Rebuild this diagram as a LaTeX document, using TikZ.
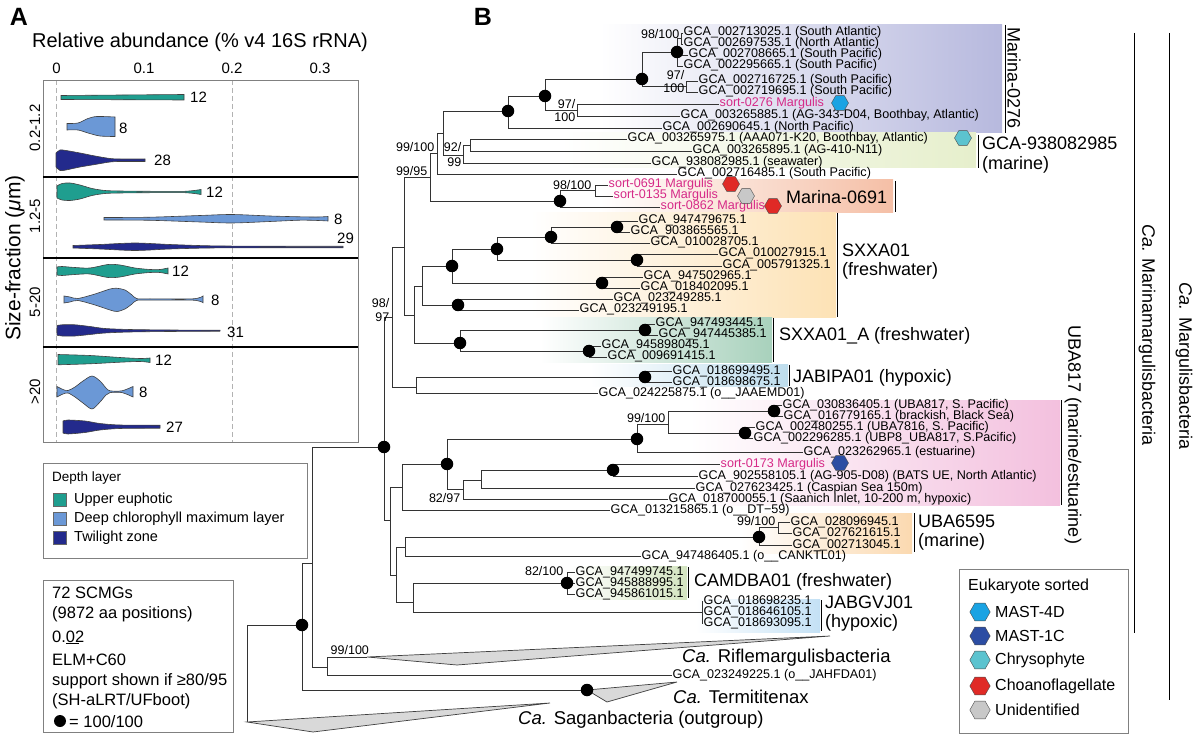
\documentclass[tikz,border=0pt]{standalone}
\usepackage{fontspec}
\setmainfont{Liberation Sans}
\definecolor{eup}{HTML}{1F9E8F}
\definecolor{dcm}{HTML}{6B98D6}
\definecolor{twi}{HTML}{232A8C}
\definecolor{sortpink}{HTML}{D62A88}
\definecolor{mastfour}{HTML}{1AA3E3}
\definecolor{mastone}{HTML}{2C4DA3}
\definecolor{chryso}{HTML}{5CC3CF}
\definecolor{choano}{HTML}{E02A26}
\definecolor{unid}{HTML}{C8C8C8}
\definecolor{cMa}{HTML}{B7B9DE}
\definecolor{cGc}{HTML}{E6EFCC}
\definecolor{cMb}{HTML}{F5BFA6}
\definecolor{cSx}{HTML}{FDE2B5}
\definecolor{cSa}{HTML}{A8D1BC}
\definecolor{cJa}{HTML}{BEDDED}
\definecolor{cUa}{HTML}{F3C0DE}
\definecolor{cUb}{HTML}{FBD9B0}
\definecolor{cCa}{HTML}{D3E4C0}
\definecolor{cJg}{HTML}{C4E1F5}
\begin{document}
\begin{tikzpicture}[x=1pt, y=-1pt,
  br/.style={draw=black!80, line width=0.8pt},
  dot/.style={circle, fill=black, inner sep=0pt, minimum size=12.5pt},
  tip/.style={anchor=west, inner sep=0.5pt, text height=8pt, text depth=2pt, font=\fontsize{12.6}{12.6}\selectfont},
  stip/.style={tip, text=sortpink},
  bs/.style={inner sep=0.5pt, align=right, font=\fontsize{12.5}{13}\selectfont},
  clade/.style={anchor=west, align=left, inner sep=0pt, font=\fontsize{18}{19}\selectfont},
  vclade/.style={rotate=-90, inner sep=0pt, font=\fontsize{18}{18}\selectfont},
  bar/.style={line width=1pt},
  vio/.style={draw=black!75, line width=0.6pt},
  num/.style={anchor=west, inner sep=0pt, font=\fontsize{15}{15}\selectfont},
  leg/.style={anchor=west, inner sep=0pt, font=\fontsize{16.5}{16.5}\selectfont},
  tri/.style={draw=black!75, fill=black!15, line width=0.7pt},
  hex/.pic={\path[pic actions] (-8.5,0) -- (-4.25,-7.4) -- (4.25,-7.4) -- (8.5,0) -- (4.25,7.4) -- (-4.25,7.4) -- cycle;}
]
\useasboundingbox (0,0) rectangle (1200,735);

% panel A
\node[font=\bfseries\fontsize{25}{25}\selectfont] (labA) at (19,17) {A};
\node[font=\fontsize{20}{20}\selectfont] (title) at (200,42) {Relative abundance (\% v4 16S rRNA)};
\foreach \v/\x [count=\i] in {0/56.5, 0.1/144, 0.2/232, 0.3/320}
  \node[font=\fontsize{15}{15}\selectfont] (tk\i) at (\x,68) {\v};
\draw[gray!60, dash pattern=on 5pt off 3pt] (56.5,80) -- (56.5,442) (232,80) -- (232,442);
\draw[gray, line width=0.8pt] (43,80) rectangle (358,442);
\foreach \y in {177,258,347} \draw[line width=1.3pt] (43,\y) -- (358,\y);

\draw[vio, fill=eup] (61,95.5) -- (184,94.5) -- (184,100) -- (61,99.5) -- cycle;
\draw[vio, fill=dcm] plot[smooth] coordinates {(67,123.5) (78,123) (88,118.5) (97,116.5) (115,117)} -- plot[smooth] coordinates {(115,136.5) (100,136) (88,133) (78,130) (67,130)} -- cycle;
\draw[vio, fill=twi] plot[smooth] coordinates {(56,153) (60,150) (66,150.5) (80,153) (95,156) (110,158.5) (120,159) (145,159)} -- plot[smooth] coordinates {(145,161.5) (120,161.5) (110,162) (95,164.5) (80,167) (66,170) (60,170.5) (56,167)} -- cycle;

\draw[vio, fill=eup] plot[smooth] coordinates {(57,186) (62,183.5) (70,183) (80,185) (92,188.5) (105,190.5) (120,191) (150,191.3) (185,191.3) (201,189.5)} -- plot[smooth] coordinates {(201,194.5) (185,192.7) (150,192.7) (120,193) (105,193.5) (92,195.5) (80,199) (70,200.5) (62,200) (57,198)} -- cycle;
\draw[vio, fill=dcm] plot[smooth] coordinates {(104,217.5) (150,217.2) (200,215.5) (232,214.5) (270,216) (300,216.8) (318,217) (328,216.5)} -- plot[smooth] coordinates {(328,221) (318,220.5) (300,220.2) (270,221.5) (232,223) (200,222) (150,220.3) (104,220)} -- cycle;
\draw[vio, fill=twi] plot[smooth] coordinates {(73,245.5) (100,244.5) (135,243) (170,244.5) (210,245.8) (260,246.2) (343,246.3)} -- plot[smooth] coordinates {(343,247.8) (260,247.8) (210,248) (170,249) (135,250.5) (100,249) (73,248)} -- cycle;

\draw[vio, fill=eup] plot[smooth] coordinates {(57,267) (62,266.5) (75,267.5) (90,268) (108,264.5) (120,265) (135,268) (150,269.5) (160,269.5) (168,268)} -- plot[smooth] coordinates {(168,274) (160,272.5) (150,272.5) (135,274) (120,277) (108,277.5) (90,274) (75,274.5) (62,275.5) (57,275)} -- cycle;
\draw[vio, fill=dcm] plot[smooth] coordinates {(64,296) (70,297) (78,298.5) (95,294) (110,289) (117,288.3) (125,290) (132,295) (137,298.7) (150,298.8) (193,298.8) (203,296)} -- plot[smooth] coordinates {(203,302.7) (193,300.2) (150,300.2) (137,300.3) (132,304) (125,309) (117,311.5) (110,310) (95,305) (78,300.5) (70,302) (64,303)} -- cycle;
\draw[vio, fill=twi] plot[smooth] coordinates {(57,325.5) (62,324.8) (75,324.8) (90,326.5) (105,328.5) (130,329.5) (170,330) (220,330.2)} -- plot[smooth] coordinates {(220,331.2) (170,331.5) (130,332) (105,333) (90,334.5) (75,336) (62,336) (57,335.2)} -- cycle;

\draw[vio, fill=eup] plot[smooth] coordinates {(58,354.5) (90,355.5) (120,357.5) (140,358.5) (150,358)} -- plot[smooth] coordinates {(150,362.5) (140,361.5) (120,362.2) (90,363.8) (58,364.8)} -- cycle;
\draw[vio, fill=dcm] plot[smooth] coordinates {(57,386.5) (63,389.5) (68,390.5) (75,387) (83,381) (92,376) (100,381) (106,388) (110,390.8) (122,390.8) (133,386.5)} -- plot[smooth] coordinates {(133,397) (122,392.6) (110,392.6) (106,395) (100,402) (92,409) (83,403) (75,397) (68,393) (63,394) (57,397)} -- cycle;
\draw[vio, fill=twi] plot[smooth] coordinates {(63,421) (68,420) (85,421) (100,423.5) (120,425) (160,425.2)} -- plot[smooth] coordinates {(160,428.2) (120,428.5) (100,430) (85,432.5) (68,434) (63,433)} -- cycle;

\node[num] (n1) at (190,97) {12};
\node[num] (n2) at (119,128) {8};
\node[num] (n3) at (154,160) {28};
\node[num] (n4) at (206,192) {12};
\node[num] (n5) at (334,219) {8};
\node[num] (n6) at (337,238) {29};
\node[num] (n7) at (172,271) {12};
\node[num] (n8) at (211,300) {8};
\node[num] (n9) at (227,332) {31};
\node[num] (n10) at (155,360) {12};
\node[num] (n11) at (139,392) {8};
\node[num] (n12) at (166,427) {27};

\node[rotate=90, font=\fontsize{15}{15}\selectfont] (sf1) at (35,128) {0.2-1.2};
\node[rotate=90, font=\fontsize{15}{15}\selectfont] (sf2) at (35,216) {1.2-5};
\node[rotate=90, font=\fontsize{15}{15}\selectfont] (sf3) at (35,302) {5-20};
\node[rotate=90, font=\fontsize{15}{15}\selectfont] (sf4) at (35,392) {>20};
\node[rotate=90, font=\fontsize{21}{21}\selectfont] (sfl) at (15,258) {Size-fraction (\textit{μ}m)};

\draw[gray, line width=0.8pt] (43,463) rectangle (307,558);
\node[anchor=west, inner sep=0pt, font=\fontsize{13.5}{13.5}\selectfont] (dlh) at (52,478) {Depth layer};
\foreach \c/\y/\t [count=\i] in {eup/500/Upper euphotic, dcm/519/Deep chlorophyll maximum layer, twi/538/Twilight zone} {
  \node[draw=black!60, fill=\c, minimum size=13pt, inner sep=0pt] (sq\i) at (60,\y) {};
  \node[anchor=west, inner sep=0pt, font=\fontsize{14.5}{14.5}\selectfont] (dl\i) at (74,\y) {\t};
}

\draw[gray, line width=0.8pt] (43,580) rectangle (233,732);
\node[leg] (g1) at (52,593) {72 SCMGs};
\node[leg] (g2) at (52,614) {(9872 aa positions)};
\node[leg] (g3) at (52,637) {0.02};
\draw[line width=0.8pt] (66,643) -- (79,643);
\node[leg] (g4) at (52,660) {ELM+C60};
\node[leg] (g5) at (52,681) {support shown if ≥80/95};
\node[leg] (g6) at (52,701) {(SH-aLRT/UFboot)};
\node[dot, minimum size=12pt] (g7) at (60,721) {};
\node[leg] (g8) at (69,722) {= 100/100};

% panel B
\node[font=\bfseries\fontsize{25}{25}\selectfont] (labB) at (483,17) {B};

\shade[left color=white, middle color=cMa!60, right color=cMa] (600,25) rectangle (1002,133);
\shade[left color=white, middle color=cGc!60, right color=cGc] (560,133) rectangle (976,168);
\shade[left color=white, middle color=cMb!60, right color=cMb] (600,180) rectangle (893,213);
\shade[left color=white, middle color=cSx!60, right color=cSx] (530,213) rectangle (836,318);
\shade[left color=white, middle color=cSa!60, right color=cSa] (540,318) rectangle (772,363);
\shade[left color=white, middle color=cJa!60, right color=cJa] (590,365) rectangle (788,387);
\shade[left color=white, middle color=cUa!60, right color=cUa] (690,400) rectangle (1060,505);
\shade[left color=white, middle color=cUb!60, right color=cUb] (740,513) rectangle (912,553);
\shade[left color=white, middle color=cCa!60, right color=cCa] (570,566) rectangle (687,599);
\shade[left color=white, middle color=cJg!60, right color=cJg] (695,599) rectangle (820,632);

\draw[bar] (1005,25) -- (1005,133);
\draw[bar] (978,135) -- (978,168);
\draw[bar] (895,181) -- (895,212);
\draw[bar] (837,213) -- (837,317);
\draw[bar] (773,318) -- (773,362);
\draw[bar] (789,365) -- (789,386);
\draw[bar] (1061,400) -- (1061,505);
\draw[bar] (914,513) -- (914,552);
\draw[bar] (688,567) -- (688,598);
\draw[bar] (821,600) -- (821,631);
\draw[bar] (1134,33) -- (1134,633);
\draw[bar] (1169,33) -- (1169,700);

\node[vclade] (c276) at (1014,78) {Marina-0276};
\node[clade] (c938) at (982,155) {GCA-938082985\\[1pt](marine)};
\node[clade] (c691) at (786,197) {Marina-0691};
\node[clade] (csx) at (842,262) {SXXA01\\(freshwater)};
\node[clade] (csa) at (779,336) {SXXA01\_A (freshwater)};
\node[clade] (cja) at (793,378) {JABIPA01 (hypoxic)};
\node[vclade] (cua) at (1073,435) {UBA817 (marine/estuarine)};
\node[clade] (cub) at (918,533) {UBA6595\\(marine)};
\node[clade] (cca) at (694,582) {CAMDBA01 (freshwater)};
\node[clade] (cjg) at (825,614) {JABGVJ01\\(hypoxic)};
\node[vclade] (cmm) at (1147,335) {\textit{Ca.} Marinamargulisbacteria};
\node[vclade] (cmg) at (1184,366) {\textit{Ca.} Margulisbacteria};

% internal nodes
\coordinate (R) at (247,673);
\coordinate (P1) at (302,625);
\coordinate (P2) at (312,563);
\coordinate (RF) at (327,667);
\coordinate (A0) at (384,447);
\coordinate (W) at (392,317);
\coordinate (V) at (404,247);
\coordinate (Q) at (430,177);
\coordinate (N99) at (437,153);
\coordinate (K) at (443,133);
\coordinate (G) at (463,155);
\coordinate (H) at (470,145);
\coordinate (D1) at (508,111);
\coordinate (D2) at (545,96);
\coordinate (X1) at (577,110);
\coordinate (D3) at (642,79);
\coordinate (X2) at (686,86);
\coordinate (D4) at (677,52);
\coordinate (Y) at (681,38);
\coordinate (M0) at (560,201);
\coordinate (M1) at (595,190);
\coordinate (S2) at (414,315);
\coordinate (S1) at (422,286);
\coordinate (SX) at (452,266);
\coordinate (SX1) at (497,249);
\coordinate (SX2) at (551,237);
\coordinate (SX3) at (617,227);
\coordinate (SX4) at (637,260);
\coordinate (SX5) at (602,283);
\coordinate (PR) at (458,305);
\coordinate (SA) at (460,343);
\coordinate (SA1) at (645,330);
\coordinate (SA2) at (589,351);
\coordinate (J) at (416,387);
\coordinate (JB) at (645,377);
\coordinate (L1) at (390,520);
\coordinate (L2) at (402,487);
\coordinate (L6) at (396,575);
\coordinate (L3) at (405,547);
\coordinate (U0) at (447,464);
\coordinate (U1) at (637,439);
\coordinate (U5) at (668,424);
\coordinate (U6) at (774,411);
\coordinate (U7) at (745,433);
\coordinate (U2) at (463,489);
\coordinate (U3) at (481,480);
\coordinate (U4) at (613,470);
\coordinate (UB) at (759,537);
\coordinate (UB1) at (778,527);
\coordinate (CJ) at (413,602);
\coordinate (CA) at (567,583);
\coordinate (JG) at (702,612);
\coordinate (TE) at (587,690);
\coordinate (RA) at (367,657);
\coordinate (SG) at (247,722);

% tips
\node[tip] (t1) at (683,33) {GCA\_002713025.1 (South Atlantic)};
\node[tip] (t2) at (683,44) {GCA\_002697535.1 (North Atlantic)};
\node[tip] (t3) at (688,55) {GCA\_002708665.1 (South Pacific)};
\node[tip] (t4) at (683,66) {GCA\_002295665.1 (South Pacific)};
\node[tip] (t5) at (698,81) {GCA\_002716725.1 (South Pacific)};
\node[tip] (t6) at (698,92) {GCA\_002719695.1 (South Pacific)};
\node[stip] (t7) at (719,104) {sort-0276 Margulis};
\node[tip] (t8) at (680,116) {GCA\_003265885.1 (AG-343-D04, Boothbay, Atlantic)};
\node[tip] (t9) at (662,128) {GCA\_002690645.1 (North Pacific)};
\node[tip] (t10) at (627,139) {GCA\_003265975.1 (AAA071-K20, Boothbay, Atlantic)};
\node[tip] (t11) at (692,151) {GCA\_003265895.1 (AG-410-N11)};
\node[tip] (t12) at (651,163) {GCA\_938082985.1 (seawater)};
\node[tip] (t13) at (677,174) {GCA\_002716485.1 (South Pacific)};
\node[stip] (t14) at (608,185) {sort-0691 Margulis};
\node[stip] (t15) at (613,196) {sort-0135 Margulis};
\node[stip] (t16) at (660,207) {sort-0862 Margulis};
\node[tip] (t17) at (638,221) {GCA\_947479675.1};
\node[tip] (t18) at (630,232) {GCA\_903865565.1};
\node[tip] (t19) at (650,243) {GCA\_010028705.1};
\node[tip] (t20) at (718,254) {GCA\_010027915.1};
\node[tip] (t21) at (722,266) {GCA\_005791325.1};
\node[tip] (t22) at (643,277) {GCA\_947502965.1};
\node[tip] (t23) at (640,288) {GCA\_018402095.1};
\node[tip] (t24) at (613,299) {GCA\_023249285.1};
\node[tip] (t25) at (579,310) {GCA\_023249195.1};
\node[tip] (t26) at (655,324) {GCA\_947493445.1};
\node[tip] (t27) at (658,335) {GCA\_947445385.1};
\node[tip] (t28) at (601,346) {GCA\_945898045.1};
\node[tip] (t29) at (607,357) {GCA\_009691415.1};
\node[tip] (t30) at (672,371) {GCA\_018699495.1};
\node[tip] (t31) at (672,382) {GCA\_018698675.1};
\node[tip] (t32) at (598,393) {GCA\_024225875.1 (o\_\_JAAEMD01)};
\node[tip] (t33) at (782,405) {GCA\_030836405.1 (UBA817, S. Pacific)};
\node[tip] (t34) at (783,416) {GCA\_016779165.1 (brackish, Black Sea)};
\node[tip] (t35) at (755,427) {GCA\_002480255.1 (UBA7816, S. Pacific)};
\node[tip] (t36) at (753,438) {GCA\_002296285.1 (UBP8\_UBA817, S.Pacific)};
\node[tip] (t37) at (803,452) {GCA\_023262965.1 (estuarine)};
\node[stip] (t38) at (720,464) {sort-0173 Margulis};
\node[tip] (t39) at (698,476) {GCA\_902558105.1 (AG-905-D08) (BATS UE, North Atlantic)};
\node[tip] (t40) at (695,488) {GCA\_027623425.1 (Caspian Sea 150m)};
\node[tip] (t41) at (668,499) {GCA\_018700055.1 (Saanich Inlet, 10-200 m, hypoxic)};
\node[tip] (t42) at (610,510) {GCA\_013215865.1 (o\_\_DT−59)};
\node[tip] (t43) at (790,522) {GCA\_028096945.1};
\node[tip] (t44) at (792,533) {GCA\_027621615.1};
\node[tip] (t45) at (792,545) {GCA\_002713045.1};
\node[tip] (t46) at (641,556) {GCA\_947486405.1 (o\_\_CANKTL01)};
\node[tip] (t47) at (575,572) {GCA\_947499745.1};
\node[tip] (t48) at (575,583) {GCA\_945888995.1};
\node[tip] (t49) at (575,594) {GCA\_945861015.1};
\node[tip] (t50) at (703,601) {GCA\_018698235.1};
\node[tip] (t51) at (703,612) {GCA\_018646105.1};
\node[tip] (t52) at (703,623) {GCA\_018693095.1};
\node[tip] (t53) at (672,675) {GCA\_023249225.1 (o\_\_JAHFDA01)};

% branches
\foreach \a/\b in {R/P1, R/SG, P1/P2, P1/TE, P2/A0, P2/RF, RF/RA, A0/W, A0/L1, W/V, W/J,
  V/Q, V/S2, Q/N99, Q/M0, N99/K, K/D1, K/G, G/H, D1/D2, D2/D3, D2/X1, D3/D4, D3/X2, D4/Y,
  M0/M1, S2/S1, S2/SA, S1/SX, S1/PR, SX/SX1, SX/SX5, SX1/SX2, SX1/SX4, SX2/SX3, SA/SA1, SA/SA2,
  J/JB, L1/L2, L1/L6, L2/U0, L6/L3, L6/CJ, L3/UB, U0/U1, U0/U2, U1/U5, U5/U6, U5/U7, U2/U3,
  U3/U4, UB/UB1, CJ/CA, CJ/JG}
  \draw[br] (\a) |- (\b);
\foreach \a/\b in {Y/t1, Y/t2, D4/t3, D4/t4, X2/t5, X2/t6, X1/t7, X1/t8, D1/t9, H/t10, H/t11,
  G/t12, N99/t13, M1/t14, M1/t15, M0/t16, SX3/t17, SX3/t18, SX2/t19, SX4/t20, SX4/t21,
  SX5/t22, SX5/t23, PR/t24, PR/t25, SA1/t26, SA1/t27, SA2/t28, SA2/t29, JB/t30, JB/t31, J/t32,
  U6/t33, U6/t34, U7/t35, U7/t36, U1/t37, U4/t38, U4/t39, U3/t40, U2/t41, L2/t42, UB1/t43,
  UB1/t44, UB/t45, L3/t46, CA/t47, CA/t48, CA/t49, JG/t50, JG/t51, JG/t52, RF/t53}
  \draw[br] (\a) |- (\b.west);

\draw[tri] (RA) -- (830,636) -- (457,665) -- cycle;
\draw[tri] (TE) -- (677,682) -- (607,702) -- cycle;
\draw[tri] (SG) -- (550,703) -- (313,732) -- cycle;

\foreach \n in {P1,A0,D1,D2,D3,D4,M0,SX,SX1,SX2,SX3,SX4,SX5,PR,SA,SA1,SA2,JB,U0,U1,U6,U7,U4,UB,CA,TE}
  \node[dot] (dot\n) at (\n) {};

\node[bs, anchor=east] (s1) at (680,34) {98/100};
\node[bs, anchor=east] (s2) at (685,82) {97/\\100};
\node[bs, anchor=east] (s3) at (576,111) {97/\\100};
\node[bs, anchor=east] (s4) at (462,155) {92/\\[2pt]99};
\node[bs, anchor=south east] (s5) at (435,152) {99/100};
\node[bs, anchor=south east] (s6) at (428,176) {99/95};
\node[bs, anchor=east] (s7) at (390,310) {98/\\[1pt]97};
\node[bs, anchor=east] (s8) at (592,185) {98/100};
\node[bs, anchor=south east] (s9) at (666,423) {99/100};
\node[bs, anchor=east] (s10) at (461,498) {82/97};
\node[bs, anchor=south east] (s11) at (776,526) {99/100};
\node[bs, anchor=east] (s12) at (564,571) {82/100};
\node[bs, anchor=south west] (s13) at (330,655) {99/100};

\node[clade, font=\fontsize{18.5}{19}\selectfont] (rif) at (682,658) {\textit{Ca.} Riflemargulisbacteria};
\node[clade, font=\fontsize{18.5}{19}\selectfont] (ter) at (673,697) {\textit{Ca.} Termititenax};
\node[clade, font=\fontsize{18.5}{19}\selectfont] (sag) at (518,720) {\textit{Ca.} Saganbacteria (outgroup)};

\pic[draw=black!70, fill=mastfour] at (840,103) {hex};
\pic[draw=black!70, fill=chryso] at (963,138) {hex};
\pic[draw=black!70, fill=choano] at (731,184) {hex};
\pic[draw=black!70, fill=unid] at (746,196) {hex};
\pic[draw=black!70, fill=choano] at (773,206) {hex};
\pic[draw=black!70, fill=mastone] at (840,463) {hex};

\draw[gray, line width=0.8pt] (959,569) rectangle (1128,733);
\node[anchor=west, inner sep=0pt, font=\fontsize{16}{16}\selectfont] (ekh) at (968,586) {Eukaryote sorted};
\foreach \c/\y/\t [count=\i] in {mastfour/612/MAST-4D, mastone/636/MAST-1C, chryso/660/Chrysophyte, choano/686/Choanoflagellate, unid/710/Unidentified} {
  \pic[draw=black!70, fill=\c, scale=1.2] at (980,\y) {hex};
  \node[anchor=west, inner sep=0pt, font=\fontsize{16}{16}\selectfont] (ek\i) at (995,\y) {\t};
}
\end{tikzpicture}
\end{document}
